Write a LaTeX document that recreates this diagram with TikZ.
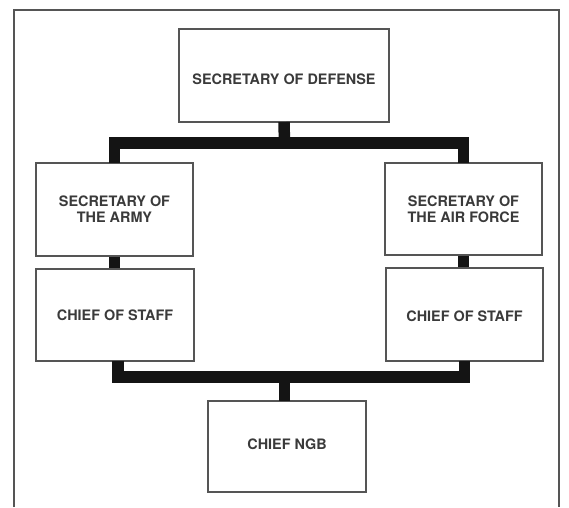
\documentclass[tikz,border=0pt]{standalone}
\usepackage{fontspec}
\setmainfont{TeX Gyre Heros}
\usetikzlibrary{positioning}
\definecolor{inkgray}{HTML}{3A3A3A}
\definecolor{boxgray}{HTML}{555555}
\definecolor{barblack}{HTML}{141414}
\tikzset{
  orgbox/.style={draw=boxgray, line width=1.1pt, inner sep=0pt, align=center,
    text=inkgray, font=\fontsize{14.4}{16}\selectfont\bfseries},
  conn/.style={draw=barblack, line width=11.5pt, line join=miter, line cap=butt},
  framel/.style={draw=boxgray, line width=1.4pt}
}
\begin{document}
\begin{tikzpicture}[x=1pt,y=-1pt]
\useasboundingbox (0,0) rectangle (569,507);
% outer frame (open at the bottom)
\draw[framel] (14,507) -- (14,10) -- (559,10) -- (559,507);
% boxes
\node[orgbox, minimum width=210pt, minimum height=93pt] (sod) at (284,75.5)
  {\raisebox{-4pt}[\height][\depth]{SECRETARY OF DEFENSE}};
\node[orgbox, minimum width=157pt, minimum height=93pt] (soa) at (114.5,209.5)
  {SECRETARY OF\\THE ARMY};
\node[orgbox, minimum width=157pt, minimum height=92pt] (soaf) at (463.5,209)
  {SECRETARY OF\\THE AIR FORCE};
\node[orgbox, minimum width=158pt, minimum height=92pt] (cosa) at (115,315)
  {CHIEF OF STAFF};
\node[orgbox, minimum width=157pt, minimum height=93pt] (cosaf) at (464.5,314.5)
  {\raisebox{-2pt}[\height][\depth]{CHIEF OF STAFF}};
\node[orgbox, minimum width=158pt, minimum height=91pt] (ngb) at (287,446.5)
  {\raisebox{2pt}[\height][\depth]{CHIEF NGB}};
% junction coordinates
\coordinate (bt) at (284.5,143);
\coordinate (bb) at (284.5,377);
% connectors
\draw[conn] ([yshift=0.5pt]sod.south) -- (bt);
\draw[conn] ([yshift=-0.5pt]soa.north) |- (bt) -| ([yshift=-0.5pt]soaf.north);
\draw[conn] (soa.south) -- (cosa.north -| soa.south);
\draw[conn] (soaf.south) -- (cosaf.north -| soaf.south);
\draw[conn] ([xshift=3pt,yshift=0.5pt]cosa.south) |- (bb) -| ([yshift=0.5pt]cosaf.south);
\draw[conn] (bb) -- ([xshift=-2.5pt,yshift=-0.5pt]ngb.north);
\end{tikzpicture}
\end{document}
